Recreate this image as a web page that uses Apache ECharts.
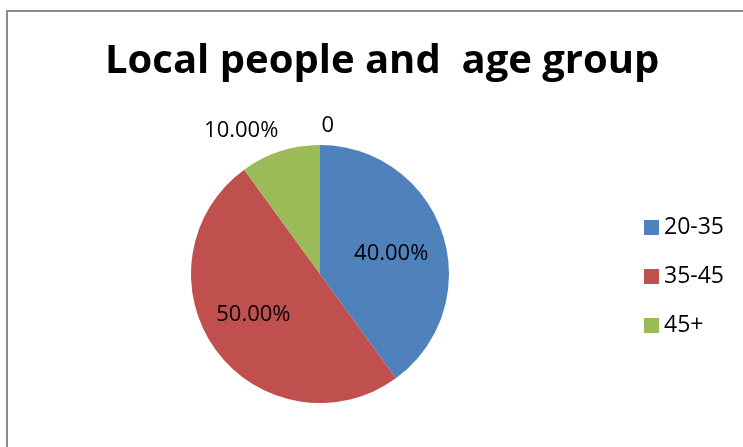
<!DOCTYPE html>
<html><head><meta charset="utf-8">
<script src="https://cdn.jsdelivr.net/npm/echarts@6/dist/echarts.min.js"></script>
<style>html,body{margin:0;padding:0;background:#fff}#c{width:743px;height:447px}</style>
</head><body><div id="c"></div>
<script>
var titleText = 'Local people and  age group';
var categories = ['20-35', '35-45', '45+'];
var values = [40, 50, 10];
var colors = ['#4F81BD', '#C0504D', '#9BBB59'];
var extraLabelValue = 0;

var chart = echarts.init(document.getElementById('c'));
var font = 'Open Sans';
var data = [{
  name: 'zero', value: extraLabelValue, itemStyle: {color: '#4F81BD'},
  label: {position: 'outside', distanceToLabelLine: -14, formatter: String(extraLabelValue)},
  labelLine: {show: false, length: 19, length2: 0}
}];
var inside = [[7, 1], [-12, 1], null];
categories.forEach(function (c, i) {
  var item = {name: c, value: values[i], itemStyle: {color: colors[i]}};
  if (inside[i]) {
    item.label = {position: 'inside', offset: inside[i]};
  } else {
    item.label = {position: 'outside', distanceToLabelLine: -5};
    item.labelLine = {show: false, length: 22, length2: 0};
  }
  data.push(item);
});
chart.setOption({
  animation: false,
  backgroundColor: '#fff',
  title: {
    text: titleText, left: 100, top: 37,
    textStyle: {fontFamily: font, fontWeight: 'bold', fontSize: 40, color: '#000'}
  },
  legend: {
    data: categories, orient: 'vertical', left: 639, top: 211,
    itemWidth: 15, itemHeight: 15, itemGap: 26, icon: 'rect',
    textStyle: {fontFamily: font, fontSize: 23, color: '#000', lineHeight: 22}
  },
  graphic: [{
    type: 'rect', shape: {x: 7, y: 11, width: 900, height: 600},
    style: {fill: 'none', stroke: '#8c8c8c', lineWidth: 2}, silent: true, z: 100
  }],
  series: [{
    type: 'pie', center: [320, 274], radius: [0, 129], startAngle: 90, clockwise: true,
    avoidLabelOverlap: false, minShowLabelAngle: 0, stillShowZeroSum: true,
    label: {
      show: true, fontFamily: font, fontSize: 22, color: '#000',
      formatter: function (p) { return p.percent.toFixed(2) + '%'; }
    },
    emphasis: {disabled: true},
    data: data
  }]
});
</script></body></html>
